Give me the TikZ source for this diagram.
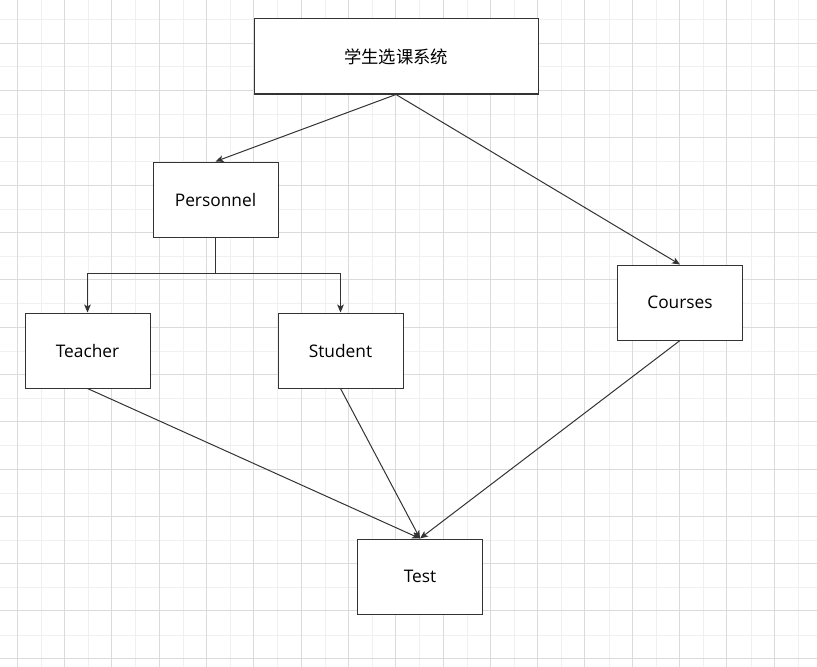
\documentclass[tikz,border=0pt]{standalone}
\usepackage{fontspec}
\setmainfont{Open Sans}
\newfontfamily\cjk{Noto Sans CJK SC}
\usetikzlibrary{arrows.meta,positioning}

\begin{document}
\begin{tikzpicture}[
    x=0.75pt, y=-0.75pt, % 以像素為單位,y 向下
    line width=0.75pt,
    >={Stealth[length=6pt, width=5pt, inset=1.5pt]}, % 設定箭頭樣式
    % --- 樣式定義 ---
    % 背景格線
    minor grid/.style={draw=black!6, line width=0.75pt},
    major grid/.style={draw=black!14, line width=0.75pt},
    % 基本黑框白底方塊
    basic box/.style={
        draw=black!80,
        fill=white,
        minimum width=93.75pt,
        minimum height=56.25pt,
        align=center,
        inner sep=3pt,
        font=\fontsize{13}{15}\selectfont
    },
    % 標題方塊(較寬)
    header box/.style={
        basic box,
        minimum width=213pt,
        font=\cjk\fontsize{13}{15}\selectfont
    },
    % 連線
    link/.style={->, draw=black!80}
]

    % ====== 背景格線 ======
    \useasboundingbox (0,0) rectangle (817,667);
    \foreach \gx in {-6.35,41,...,820} {
        \draw[minor grid] (\gx,0) -- (\gx,667);
    }
    \foreach \gy in {19.65,67,...,670} {
        \draw[minor grid] (0,\gy) -- (817,\gy);
    }
    \foreach \gx in {17.3,64.6,...,820} {
        \draw[major grid] (\gx,0) -- (\gx,667);
    }
    \foreach \gy in {43.3,90.6,...,670} {
        \draw[major grid] (0,\gy) -- (817,\gy);
    }

    % ====== 方塊 ======
    \node[header box] (system) at (396,56.5) {学生选课系统};

    \node[basic box] (personnel) at (215.5,199.5) {Personnel};
    \node[basic box] (courses) at (680,302.5) {Courses};

    \node[basic box] (teacher) at (87.5,350.5) {Teacher};
    \node[basic box, right=95.25pt of teacher] (student) {Student};

    \node[basic box] (test) at (420,576.5) {Test};

    % ====== 箭頭連接 ======
    \draw[link] (system.south) -- (personnel.north);
    \draw[link] (system.south) -- (courses.north);

    \draw[link] (personnel.south) -- ++(0,36) -| (teacher.north);
    \draw[link] (personnel.south) -- ++(0,36) -| (student.north);

    \draw[link] (teacher.south) -- (test.north);
    \draw[link] (student.south) -- (test.north);
    \draw[link] (courses.south) -- (test.north);

\end{tikzpicture}
\end{document}
